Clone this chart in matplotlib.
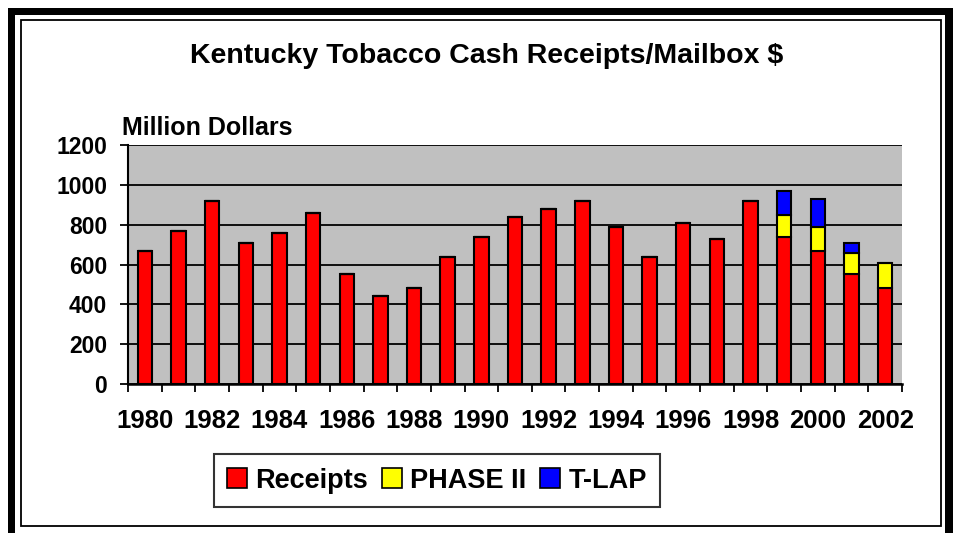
import matplotlib
matplotlib.use("Agg")
import matplotlib.pyplot as plt
from matplotlib.patches import Rectangle, Patch
import numpy as np

years = [str(y) for y in range(1980, 2003)]
receipts = [670, 770, 920, 710, 760, 860, 550, 440, 480, 640, 740, 840, 880, 920,
            790, 640, 810, 730, 920, 740, 670, 550, 480]
phase2 = [0] * 19 + [110, 120, 110, 130]
tlap = [0] * 19 + [120, 140, 50, 0]
yticks = [0, 200, 400, 600, 800, 1000, 1200]
title = "Kentucky Tobacco Cash Receipts/Mailbox $"
ylabel = "Million Dollars"
series_names = ["Receipts", "PHASE II", "T-LAP"]
colors = ["#FF0000", "#FFFF00", "#0000FF"]

plt.rcParams['font.family'] = ['Liberation Sans', 'DejaVu Sans']
plt.rcParams['font.weight'] = 'bold'

W, H = 954, 533
fig = plt.figure(figsize=(W / 100, H / 100), dpi=100)

def px_rect(x0, y0, x1, y1, **kw):
    r = Rectangle((x0 / W, 1 - y1 / H), (x1 - x0) / W, (y1 - y0) / H,
                  transform=fig.transFigure, **kw)
    fig.patches.append(r)

# outer frame
px_rect(8, 8, 954, 15, facecolor='black', edgecolor='none')
px_rect(8, 8, 15, 533, facecolor='black', edgecolor='none')
px_rect(945, 8, 954, 533, facecolor='black', edgecolor='none')
px_rect(21, 20, 941, 526, facecolor='none', edgecolor='black', linewidth=1.3)

ax = fig.add_axes([128 / W, 1 - 384 / H, (902 - 128) / W, (384 - 145) / H])
ax.set_facecolor('#C0C0C0')

x = np.arange(len(years))
rec = np.array(receipts)
p2 = np.array(phase2)
tl = np.array(tlap)
bw = 0.43
ax.bar(x, rec, width=bw, color=colors[0], edgecolor='black', linewidth=1.5, zorder=3)
ax.bar(x, p2, bottom=rec, width=bw, color=colors[1], edgecolor='black', linewidth=1.5, zorder=3)
ax.bar(x, tl, bottom=rec + p2, width=bw, color=colors[2], edgecolor='black', linewidth=1.5, zorder=3)

ax.set_xlim(-0.5, len(years) - 0.5)
ax.set_ylim(0, 1200)
ax.set_yticks(yticks)
ax.set_yticklabels([str(v) for v in yticks], fontsize=16.5, fontweight='bold')
ax.yaxis.grid(True, color='black', linewidth=1.3, zorder=1)
ax.set_axisbelow(True)

ax.set_xticks(x[::2])
ax.set_xticklabels(years[::2], fontsize=18.5, fontweight='bold')
ax.set_xticks(np.arange(-0.5, len(years)), minor=True)
ax.tick_params(axis='x', which='major', length=0, pad=18)
ax.tick_params(axis='x', which='minor', length=6, width=1.3, color='black')
ax.tick_params(axis='y', which='major', length=6, width=1.3, pad=9)

for s in ['top', 'right']:
    ax.spines[s].set_visible(False)
ax.spines['left'].set_linewidth(1.5)
ax.spines['bottom'].set_linewidth(1.8)

fig.text(487 / W, 1 - 56 / H, title, ha='center', va='center', fontsize=20.5, fontweight='bold')
fig.text(122 / W, 1 - 128 / H, ylabel, ha='left', va='center', fontsize=18, fontweight='bold')

handles = [Patch(facecolor=c, edgecolor='black', linewidth=1.2) for c in colors]
leg = fig.legend(handles, series_names, loc='center', bbox_to_anchor=(437 / W, 1 - 480.5 / H),
                 ncol=3, frameon=True, fancybox=False, edgecolor='black',
                 prop={'size': 19.5, 'weight': 'bold'}, handlelength=0.75, handleheight=0.75,
                 handletextpad=0.3, columnspacing=0.5, borderpad=0.5)
leg.get_frame().set_linewidth(1.5)

fig.savefig('out.png', dpi=100)
